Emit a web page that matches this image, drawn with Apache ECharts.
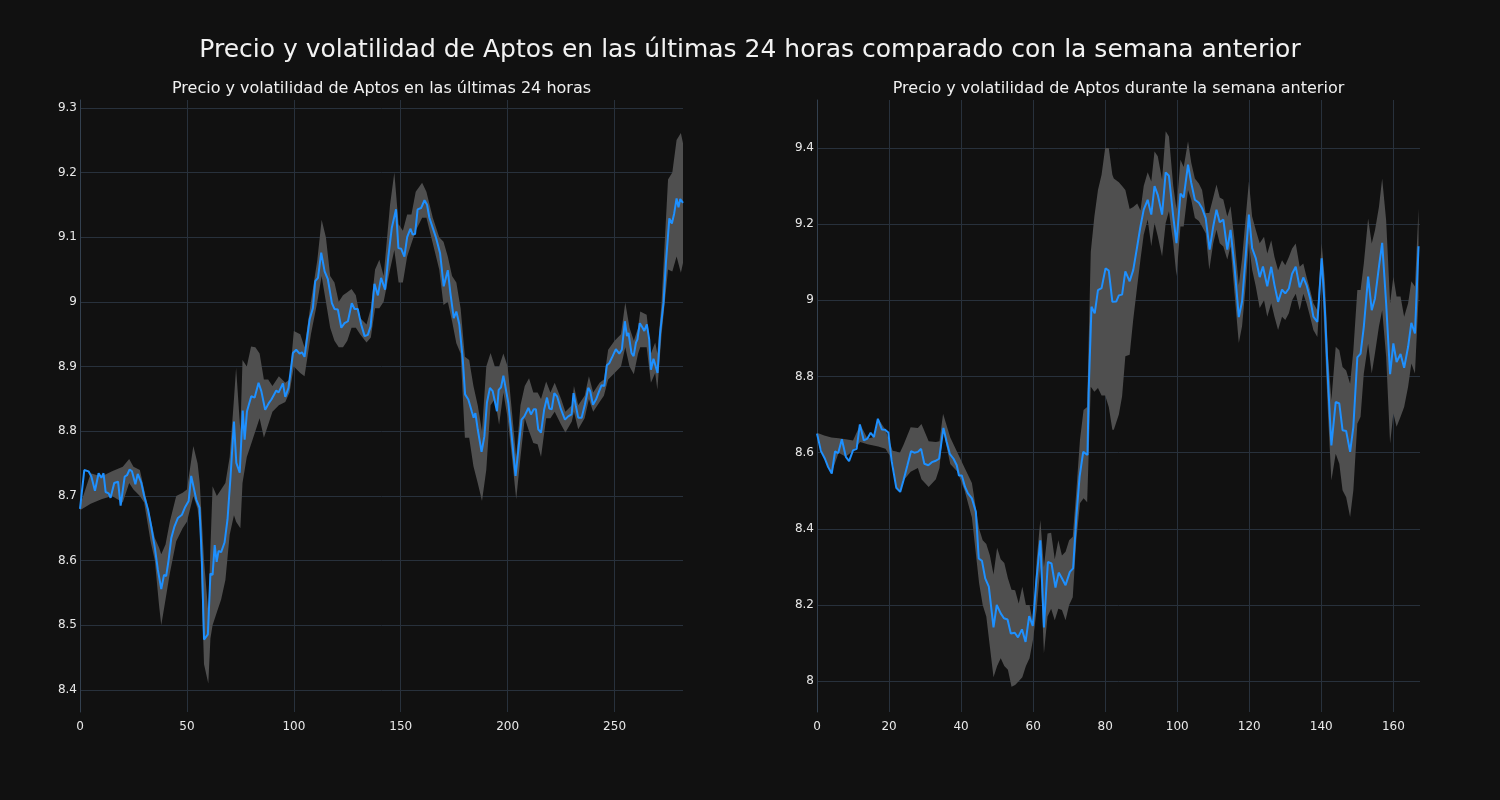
<!DOCTYPE html>
<html>
<head>
<meta charset="utf-8">
<script src="https://cdn.jsdelivr.net/npm/echarts@6/dist/echarts.min.js"></script>
<style>
html,body{margin:0;padding:0;background:#111111;}
#chart{width:1500px;height:800px;}
</style>
</head>
<body>
<div id="chart"></div>
<script>
// ---------- Titles ----------
const mainTitle = 'Precio y volatilidad de Aptos en las últimas 24 horas comparado con la semana anterior';
const leftTitle = 'Precio y volatilidad de Aptos en las últimas 24 horas';
const rightTitle = 'Precio y volatilidad de Aptos durante la semana anterior';

// ---------- Left: last 24 hours (price) ----------
const dayX = [0,2,4,5.3,7,8.7,10,11,12,13.4,14.3,16,17.8,19,20.9,22,23.2,24.3,25.9,27,28.7,30,31.8,33.3,35,36.4,38,39.3,40.3,41.4,42.7,44.2,45.8,47.7,49.2,50.8,52,52.8,54.4,55.9,57,58,59.8,61,62,63,63.9,64.8,66,67.6,69,70.4,72,73.1,74.7,76.1,77,78.1,79,80.1,81.7,83.5,84.8,86.6,88.2,89.5,91.8,92.9,94.9,96,97.5,99.6,101.1,102.7,103.8,105,107.4,108.9,110,111.3,112.8,114.4,115.9,117.8,119,120.6,122.2,123.7,125.3,127.1,128.4,129.9,131.5,133.1,134.6,135.9,137.7,139.3,140.8,142.7,144.2,145.8,147.8,148.9,150.2,151.7,153,154.5,155.6,156.7,157.9,159.5,161.1,162.3,163.4,165,166.5,168.4,170.1,171,172,173.2,174.8,176,177.4,179,180.1,181.6,183.2,184.1,184.9,186,187.8,189.1,190.3,191.7,193,193.8,195,195.8,196.9,198,198.8,200.3,201.9,203.7,205,206.5,207.8,209.7,210.9,212.2,213.2,214.3,215.6,217.1,218.4,219.5,220.6,221.8,223.1,224.9,226.8,228.3,229.9,230.8,231.9,233,234.6,236.1,237.7,238.6,239.9,241.3,242.8,243.9,245.2,246.4,247.5,249.1,250.6,252.2,253.4,254.8,255.8,256.5,257.9,258.9,260,260.7,261.8,263.1,263.9,265.1,266.2,267,268.2,269,270.1,271.3,272.9,274,275.6,276.8,277.9,279,279.9,280.7,282];
const dayPrice = [8.680,8.740,8.738,8.730,8.708,8.735,8.728,8.735,8.706,8.704,8.697,8.720,8.722,8.685,8.730,8.732,8.741,8.738,8.718,8.734,8.720,8.700,8.679,8.653,8.620,8.586,8.556,8.578,8.576,8.600,8.635,8.653,8.666,8.671,8.683,8.692,8.731,8.732,8.694,8.682,8.600,8.478,8.486,8.580,8.578,8.624,8.598,8.615,8.613,8.628,8.664,8.730,8.815,8.751,8.736,8.832,8.787,8.831,8.832,8.854,8.852,8.875,8.862,8.833,8.843,8.849,8.863,8.860,8.874,8.853,8.867,8.921,8.926,8.920,8.922,8.915,8.973,8.990,9.032,9.037,9.076,9.047,9.035,8.998,8.989,8.988,8.960,8.967,8.970,8.998,8.989,8.989,8.965,8.947,8.949,8.962,9.028,9.010,9.037,9.019,9.070,9.114,9.143,9.083,9.082,9.070,9.100,9.113,9.104,9.105,9.143,9.145,9.157,9.150,9.130,9.114,9.099,9.075,9.024,9.021,9.049,9.014,8.975,8.985,8.965,8.911,8.857,8.849,8.831,8.821,8.828,8.803,8.768,8.792,8.844,8.867,8.862,8.859,8.831,8.864,8.868,8.886,8.884,8.844,8.792,8.731,8.772,8.818,8.823,8.836,8.826,8.834,8.834,8.803,8.798,8.834,8.852,8.835,8.834,8.859,8.854,8.834,8.818,8.823,8.826,8.859,8.839,8.821,8.821,8.841,8.867,8.862,8.841,8.849,8.862,8.871,8.870,8.902,8.905,8.916,8.927,8.920,8.926,8.970,8.947,8.952,8.921,8.916,8.937,8.942,8.967,8.960,8.955,8.965,8.942,8.895,8.912,8.913,8.890,8.952,8.999,9.060,9.129,9.121,9.137,9.160,9.146,9.159,9.153];

// ---------- Left: volatility band ----------
const dayBandX = [0,5,10,15,20,23,25,28,30,33,35,37,38,40,42,45,48,50,53,55,56,58,60,61,62,64,66,68,70,72,73,75,76,78,80,82,84,86,88,90,93,96,98,100,103,105,108,111,113,115,117,119,121,123,125,127,129,131,134,136,138,140,142,145,147,149,151,153,155,157,160,162,165,168,170,172,174,176,178,180,182,184,186,188,190,192,194,196,198,200,202,204,206,208,210,212,214,215.6,218,220,222,225,227,230,231,233,236,238,240,243,245,247,250,253,255,257,259,261,262,265,267,269,270,272,275,277,279,281,282];
const dayUpper = [8.685,8.735,8.730,8.738,8.745,8.757,8.745,8.740,8.710,8.665,8.635,8.620,8.610,8.625,8.660,8.700,8.705,8.710,8.777,8.750,8.720,8.600,8.520,8.620,8.715,8.700,8.710,8.720,8.760,8.850,8.898,8.800,8.910,8.900,8.931,8.930,8.920,8.880,8.880,8.870,8.885,8.875,8.880,8.955,8.950,8.930,9.000,9.065,9.127,9.100,9.040,9.030,9.000,9.010,9.015,9.020,9.010,8.975,8.965,8.990,9.050,9.065,9.040,9.150,9.200,9.120,9.110,9.135,9.135,9.170,9.184,9.170,9.130,9.100,9.093,9.070,9.040,9.030,8.990,8.915,8.910,8.870,8.840,8.800,8.900,8.921,8.900,8.900,8.920,8.900,8.830,8.760,8.840,8.870,8.882,8.860,8.860,8.850,8.877,8.860,8.875,8.850,8.830,8.840,8.870,8.840,8.855,8.885,8.860,8.875,8.880,8.926,8.940,8.950,8.999,8.960,8.940,8.960,8.985,8.980,8.920,8.937,8.920,9.000,9.189,9.200,9.250,9.261,9.245];
const dayLower = [8.678,8.688,8.695,8.700,8.690,8.720,8.710,8.700,8.690,8.630,8.600,8.530,8.500,8.540,8.580,8.630,8.650,8.660,8.700,8.680,8.650,8.440,8.410,8.480,8.500,8.520,8.540,8.570,8.640,8.670,8.660,8.650,8.720,8.760,8.780,8.800,8.820,8.790,8.810,8.830,8.840,8.845,8.860,8.900,8.890,8.885,8.950,9.000,9.040,9.000,8.960,8.940,8.930,8.930,8.940,8.960,8.960,8.950,8.937,8.945,8.990,8.990,9.000,9.050,9.080,9.030,9.030,9.070,9.090,9.110,9.130,9.130,9.090,9.050,8.995,9.000,8.970,8.936,8.920,8.790,8.790,8.746,8.720,8.692,8.740,8.840,8.850,8.810,8.860,8.820,8.760,8.695,8.760,8.820,8.800,8.782,8.780,8.760,8.820,8.820,8.830,8.810,8.798,8.815,8.830,8.803,8.820,8.850,8.830,8.845,8.855,8.880,8.890,8.900,8.930,8.900,8.888,8.920,8.930,8.930,8.875,8.890,8.864,8.950,9.050,9.047,9.070,9.045,9.060];

// ---------- Right: previous week (price) ----------
const weekX = [0,1.1,2.2,3.1,4.1,5,5.9,6.9,8,8.9,10,11,11.9,13,14,14.9,15.8,16.9,18,18.9,19.8,20.7,22,23.1,24,25.1,26.1,27,28,28.9,29.8,30.9,31.9,32.8,33.9,35.1,36,36.9,37.9,38.8,39.4,40.2,41.1,41.9,43,44.1,44.9,45.8,46.7,47.7,49,49.9,51,51.9,52.9,53.8,54.9,55.8,56.9,57.9,58.9,59.9,60.9,62,63,64.1,65.1,66.2,67.1,68,69,70.2,71.1,72,72.9,73.9,75.1,75.4,76.2,77.1,78,79,80.1,81,82,83.1,83.8,84.7,85.6,86.8,87.8,88.9,89.8,90.7,91.8,92.8,93.7,94.6,95.8,96.8,97.7,98.9,99.8,100.9,101.8,103,103.9,104.9,106,106.9,107.9,109,110,110.9,111.8,112.8,113.9,114.8,115.9,117.1,118,119,119.9,120.8,121.8,122.9,123.8,125,126.1,127,128,129.1,130,131,131.9,132.9,134,135,135.9,136.9,137.8,138.9,139.4,140.1,141,141.9,142.8,144,145,145.9,146.9,148,148.9,150,150.9,151.8,153,154,154.9,156,156.9,158,159.1,160,160.9,162,163,164.1,165,166,167];
const weekPrice = [8.650,8.604,8.584,8.562,8.545,8.603,8.599,8.635,8.589,8.578,8.606,8.610,8.674,8.632,8.637,8.652,8.641,8.689,8.661,8.660,8.653,8.580,8.508,8.497,8.527,8.567,8.604,8.600,8.602,8.610,8.571,8.567,8.575,8.578,8.584,8.665,8.628,8.596,8.584,8.567,8.540,8.540,8.510,8.493,8.480,8.445,8.322,8.316,8.270,8.248,8.141,8.200,8.178,8.165,8.162,8.125,8.127,8.115,8.136,8.103,8.171,8.145,8.265,8.370,8.141,8.313,8.309,8.246,8.285,8.270,8.252,8.287,8.296,8.432,8.537,8.602,8.594,8.756,8.983,8.966,9.027,9.032,9.084,9.078,8.996,8.997,9.013,9.015,9.076,9.050,9.080,9.142,9.194,9.238,9.264,9.225,9.300,9.277,9.225,9.336,9.327,9.220,9.150,9.280,9.270,9.356,9.308,9.264,9.256,9.242,9.216,9.133,9.194,9.238,9.205,9.212,9.133,9.185,9.089,8.956,8.997,9.115,9.225,9.137,9.111,9.061,9.089,9.037,9.088,9.040,8.996,9.028,9.018,9.031,9.070,9.088,9.034,9.060,9.040,9.005,8.957,8.943,9.009,9.110,8.974,8.781,8.619,8.733,8.729,8.659,8.657,8.602,8.668,8.850,8.860,8.930,9.062,8.974,9.005,9.088,9.151,8.992,8.806,8.887,8.838,8.859,8.823,8.878,8.941,8.913,9.142];

// ---------- Right: volatility band ----------
const weekBandX = [0,2,4,6,8,10,12,14,16,17,19,21,22,23,24,26,28,29,31,33,34,35,37,39,41,43,45,46,47,48,49,50,51,52,53,54,55,56,57,58,59,60,61,62,63,64,65,66,67,68,69,70,71,72,73,74,75,76,77,78,79,80,81,82,82.4,83.8,84.7,85.6,86.8,87.8,88.9,89.8,90.7,91.8,92.8,93.7,94.6,95.8,96.8,97.7,98.9,99.8,100.9,101.8,103,103.9,104.9,106,106.9,107.9,108.9,110,110.9,111.8,112.8,113.9,114.8,115.9,117.1,118,119,119.9,120.8,121.8,122.9,124.1,125,126.1,127,128,129.1,130,131,131.9,132.9,134,135,135.9,136.9,137.8,138.9,140.1,141,141.9,142.8,144,145,145.9,146.9,148,148.9,150,150.9,151.8,153,154,154.9,156,156.9,158,159.1,160,160.9,162,163,164.1,165,166,167];
const weekUpper = [8.652,8.645,8.640,8.638,8.635,8.632,8.674,8.637,8.641,8.689,8.660,8.605,8.603,8.600,8.620,8.667,8.665,8.675,8.630,8.628,8.630,8.702,8.640,8.600,8.560,8.520,8.400,8.370,8.360,8.330,8.280,8.350,8.320,8.310,8.270,8.240,8.239,8.204,8.248,8.200,8.200,8.150,8.320,8.423,8.300,8.388,8.390,8.320,8.370,8.330,8.340,8.370,8.379,8.500,8.633,8.712,8.720,9.127,9.220,9.290,9.330,9.400,9.400,9.330,9.320,9.310,9.300,9.290,9.240,9.245,9.254,9.236,9.300,9.336,9.312,9.391,9.378,9.317,9.444,9.430,9.300,9.240,9.369,9.350,9.418,9.361,9.320,9.307,9.290,9.229,9.229,9.270,9.304,9.270,9.265,9.220,9.247,9.160,9.040,9.110,9.216,9.312,9.220,9.185,9.150,9.167,9.123,9.158,9.114,9.079,9.105,9.092,9.114,9.136,9.149,9.088,9.097,9.062,9.027,8.992,8.974,9.149,9.052,8.851,8.738,8.878,8.869,8.825,8.816,8.781,8.869,9.027,9.027,9.097,9.215,9.149,9.184,9.245,9.320,9.210,8.992,9.062,9.010,9.010,8.957,8.992,9.050,9.036,9.241];
const weekLower = [8.645,8.584,8.545,8.600,8.589,8.605,8.628,8.622,8.618,8.616,8.610,8.580,8.508,8.497,8.527,8.550,8.560,8.530,8.510,8.530,8.560,8.660,8.570,8.550,8.500,8.430,8.257,8.200,8.170,8.090,8.010,8.040,8.060,8.040,8.030,7.985,7.990,8.000,8.010,8.040,8.060,8.110,8.190,8.300,8.073,8.170,8.190,8.160,8.190,8.187,8.160,8.200,8.220,8.370,8.467,8.480,8.470,8.773,8.760,8.770,8.750,8.750,8.720,8.660,8.660,8.700,8.748,8.853,8.857,8.950,9.037,9.107,9.172,9.212,9.142,9.203,9.168,9.115,9.203,9.234,9.150,9.063,9.194,9.194,9.290,9.264,9.216,9.208,9.194,9.176,9.080,9.150,9.185,9.150,9.141,9.107,9.141,9.019,8.888,8.932,9.037,9.150,9.080,9.037,8.980,9.000,8.957,8.992,8.957,8.922,8.957,8.948,8.966,9.000,9.017,8.974,9.017,8.992,8.957,8.922,8.904,9.079,8.886,8.694,8.527,8.597,8.571,8.501,8.483,8.431,8.501,8.676,8.694,8.808,8.886,8.808,8.861,8.931,8.974,8.852,8.624,8.703,8.668,8.694,8.720,8.773,8.834,8.808,9.009];

// ---------- Axis settings ----------
const dayXRange = [0, 282];
const dayYRange = [8.366, 9.312];
const weekXRange = [0, 167.4];
const weekYRange = [7.919, 9.526];

// ---------- Styles ----------
const BG = '#111111';
const GRID_COLOR = '#28313c';
const AXIS_COLOR = '#33404f';
const TEXT_COLOR = '#e8e8e8';
const LINE_COLOR = '#1e90ff';
const BAND_COLOR = '#4f4f4f';
const FONT = 'DejaVu Sans';

const pairs = (xs, ys) => xs.map((x, i) => [x, ys[i]]);

function xAxisCfg(idx, range, interval) {
  return {
    type: 'value', gridIndex: idx, min: range[0], max: range[1], interval: interval,
    axisLine: {show: false}, axisTick: {show: false},
    axisLabel: {color: TEXT_COLOR, fontFamily: FONT, fontSize: 12, margin: 9, showMaxLabel: false},
    splitLine: {show: true, showMaxLine: false, showMinLine: true, lineStyle: {color: GRID_COLOR, width: 1}}
  };
}
function yAxisCfg(idx, range, step) {
  return {
    type: 'value', gridIndex: idx, min: range[0], max: range[1],
    minInterval: step, maxInterval: step, splitNumber: 10,
    axisLine: {show: true, onZero: false, lineStyle: {color: AXIS_COLOR, width: 1}}, axisTick: {show: false},
    axisLabel: {color: TEXT_COLOR, fontFamily: FONT, fontSize: 12, margin: 3, showMinLabel: false, showMaxLabel: false},
    splitLine: {show: true, showMinLine: false, showMaxLine: false, lineStyle: {color: GRID_COLOR, width: 1}}
  };
}
// Band drawn as one polygon: upper edge forward, lower edge backward, via the axes' coordinate mapping.
function bandSeries(idx, xs, hi, lo) {
  const data = xs.map((x, i) => [x, lo[i], hi[i]]);
  return {
    type: 'custom', xAxisIndex: idx, yAxisIndex: idx, z: 1, clip: true,
    encode: {x: 0, y: [1, 2]},
    data: data,
    renderItem: function (params, api) {
      if (params.dataIndex !== 0) return null;
      const pts = [];
      for (let i = 0; i < data.length; i++) pts.push(api.coord([data[i][0], data[i][2]]));
      for (let i = data.length - 1; i >= 0; i--) pts.push(api.coord([data[i][0], data[i][1]]));
      return {type: 'polygon', shape: {points: pts}, style: {fill: BAND_COLOR}};
    }
  };
}
function priceSeries(idx, xs, ys) {
  return {type: 'line', xAxisIndex: idx, yAxisIndex: idx, symbol: 'none',
          lineStyle: {color: LINE_COLOR, width: 2}, data: pairs(xs, ys), z: 3};
}

const chart = echarts.init(document.getElementById('chart'), null, {renderer: 'canvas'});
chart.setOption({
  backgroundColor: BG,
  animation: false,
  graphic: [
    {type: 'text', x: 750, y: 50, style: {text: mainTitle, fill: '#f2f2f2', font: '25px "DejaVu Sans"', textAlign: 'center', textVerticalAlign: 'middle'}},
    {type: 'text', x: 381.5, y: 89, style: {text: leftTitle, fill: '#f0f0f0', font: '16px "DejaVu Sans"', textAlign: 'center', textVerticalAlign: 'middle'}},
    {type: 'text', x: 1118.5, y: 89, style: {text: rightTitle, fill: '#f0f0f0', font: '16px "DejaVu Sans"', textAlign: 'center', textVerticalAlign: 'middle'}}
  ],
  grid: [
    {left: 80, right: 817, top: 100, bottom: 88, containLabel: false},
    {left: 817, right: 80, top: 100, bottom: 88, containLabel: false}
  ],
  xAxis: [xAxisCfg(0, dayXRange, 50), xAxisCfg(1, weekXRange, 20)],
  yAxis: [yAxisCfg(0, dayYRange, 0.1), yAxisCfg(1, weekYRange, 0.2)],
  series: [
    bandSeries(0, dayBandX, dayUpper, dayLower),
    priceSeries(0, dayX, dayPrice),
    bandSeries(1, weekBandX, weekUpper, weekLower),
    priceSeries(1, weekX, weekPrice)
  ]
});
</script>
</body>
</html>
